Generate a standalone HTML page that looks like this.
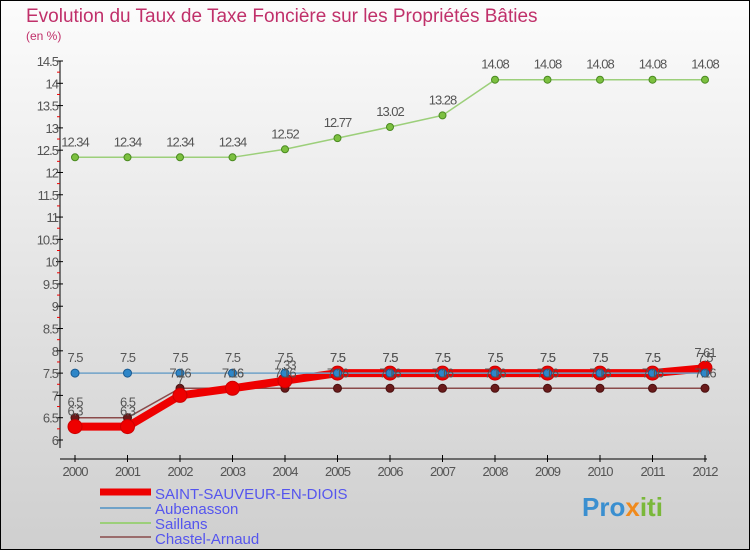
<!DOCTYPE html>
<html><head><meta charset="utf-8"><style>
body{margin:0}
#c{width:750px;height:550px;position:relative;box-sizing:border-box;border:1px solid #000;background:linear-gradient(#fcfcfc,#e0e0e0 60%,#cfcfcf);font-family:"Liberation Sans",sans-serif;overflow:hidden}
</style></head><body>
<div id="c">
<svg id="s" width="750" height="550" style="position:absolute;left:-1px;top:-1px">
<text x="26" y="22" font-size="19" fill="#c0306a">Evolution du Taux de Taxe Foncière sur les Propriétés Bâties</text>
<text x="26" y="40" font-size="12" fill="#c0306a">(en %)</text>
<g id="axes"></g><g id="series"></g><g id="labels"></g>
<g>
<line x1="100" y1="492" x2="151" y2="492" stroke="#e00" stroke-width="7"/>
<text x="155" y="499" font-size="15" fill="#5555ee">SAINT-SAUVEUR-EN-DIOIS</text>
<line x1="100" y1="508" x2="151" y2="508" stroke="#6fa2c8" stroke-width="2"/>
<text x="155" y="514" font-size="15" fill="#5555ee">Aubenasson</text>
<line x1="100" y1="523" x2="151" y2="523" stroke="#9ccf7a" stroke-width="2"/>
<text x="155" y="529" font-size="15" fill="#5555ee">Saillans</text>
<line x1="100" y1="537" x2="151" y2="537" stroke="#9a6c6c" stroke-width="2"/>
<text x="155" y="544" font-size="15" fill="#5555ee">Chastel-Arnaud</text>
</g>
<g font-size="26" font-weight="bold">
<text x="582" y="516"><tspan fill="#3a8fd0">Pro</tspan><tspan fill="#f08a1c">x</tspan><tspan fill="#7ab83a">iti</tspan></text>
</g>
</svg>
</div>
<script>
const years=[2000,2001,2002,2003,2004,2005,2006,2007,2008,2009,2010,2011,2012];
const saintSauveur=[6.3,6.3,7,7.16,7.33,7.5,7.5,7.5,7.5,7.5,7.5,7.5,7.61];
const aubenasson=[7.5,7.5,7.5,7.5,7.5,7.5,7.5,7.5,7.5,7.5,7.5,7.5,7.5];
const saillans=[12.34,12.34,12.34,12.34,12.52,12.77,13.02,13.28,14.08,14.08,14.08,14.08,14.08];
const chastel=[6.5,6.5,7.16,7.16,7.16,7.16,7.16,7.16,7.16,7.16,7.16,7.16,7.16];
const yTicks=[6,6.5,7,7.5,8,8.5,9,9.5,10,10.5,11,11.5,12,12.5,13,13.5,14,14.5];
const NS="http://www.w3.org/2000/svg";
const X=i=>75+i*52.5;
const Y=v=>440-(v-6)*(379/8.5);
function mk(t,a,p){const e=document.createElementNS(NS,t);for(const k in a)e.setAttribute(k,a[k]);p.appendChild(e);return e;}
const ax=document.getElementById('axes'),se=document.getElementById('series'),lb=document.getElementById('labels');
mk('line',{x1:60,y1:Y(14.5),x2:60,y2:Y(6)+8,stroke:'#000'},ax);
mk('line',{x1:60,y1:459,x2:707,y2:459,stroke:'#000'},ax);
yTicks.forEach(v=>{
  mk('line',{x1:56,y1:Y(v),x2:63,y2:Y(v),stroke:'#000'},ax);
  if(v<14.5)mk('line',{x1:57,y1:Y(v+0.25),x2:60,y2:Y(v+0.25),stroke:'#e00'},ax);
  const t=mk('text',{x:58,y:Y(v)+5,'font-size':13,fill:'#555','text-anchor':'end','letter-spacing':'-1'},ax);
  
  
  t.textContent=String(v);
});
years.forEach((y,i)=>{
  mk('line',{x1:X(i),y1:455,x2:X(i),y2:462,stroke:'#000'},ax);
  const t=mk('text',{x:X(i),y:476,'font-size':13,fill:'#555','text-anchor':'middle','letter-spacing':'-1'},ax);
  
  
  t.textContent=y;
});
function series(vals,name,color,w,r,dot,dotStroke){
  const g=mk('g',{},se);
  
  
  mk('polyline',{points:vals.map((v,i)=>X(i)+','+Y(v)).join(' '),fill:'none',stroke:color,'stroke-width':w,'stroke-linejoin':'round'},g);
  vals.forEach((v,i)=>{
    const c=mk('circle',{cx:X(i),cy:Y(v),r:r,fill:dot,stroke:dotStroke,'stroke-width':1},g);
    
    
    const t=mk('text',{x:X(i),y:Y(v)-11,'font-size':13,fill:'#555','text-anchor':'middle','letter-spacing':'-1'},lb);
    
    
    t.textContent=String(v);
  });
}
series(saillans,'saillans-line','#9ccf7a',1.5,3.5,'#7cc040','#4a8a20');
series(chastel,'chastel-arnaud-line','#8a4a4a',1.5,4,'#6a1a1a','#4a1010');
series(saintSauveur,'saint-sauveur-line','#ee0000',8,7,'#ee0000','#c00');
series(aubenasson,'aubenasson-line','#6fa2c8',1.5,4,'#2e86c8','#1a5a90');
</script>
</body></html>
